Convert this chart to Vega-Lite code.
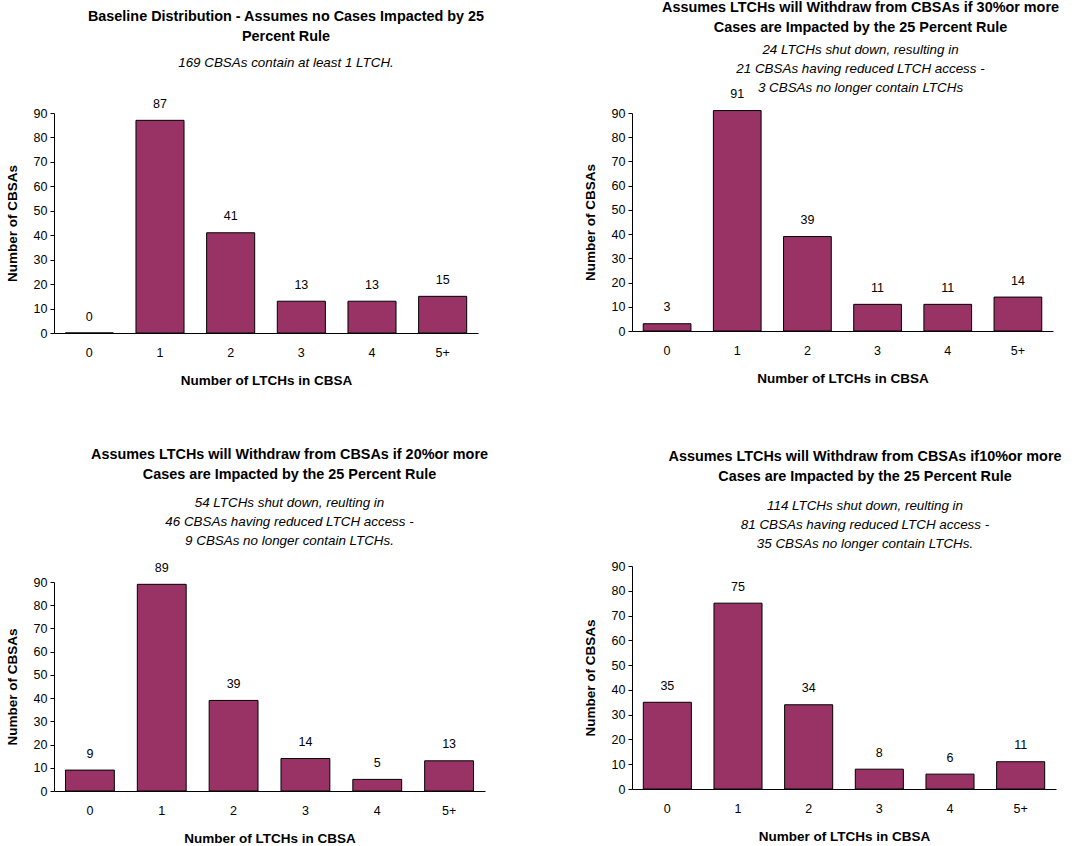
{
  "$schema": "https://vega.github.io/schema/vega-lite/v6.json",
  "background": "white",
  "padding": {"left": 5, "top": 0, "right": 0, "bottom": 0},
  "data": {
    "values": [
      {"scenario": "base", "ltchs": "0", "cbsas": 0},
      {"scenario": "base", "ltchs": "1", "cbsas": 87},
      {"scenario": "base", "ltchs": "2", "cbsas": 41},
      {"scenario": "base", "ltchs": "3", "cbsas": 13},
      {"scenario": "base", "ltchs": "4", "cbsas": 13},
      {"scenario": "base", "ltchs": "5+", "cbsas": 15},
      {"scenario": "30", "ltchs": "0", "cbsas": 3},
      {"scenario": "30", "ltchs": "1", "cbsas": 91},
      {"scenario": "30", "ltchs": "2", "cbsas": 39},
      {"scenario": "30", "ltchs": "3", "cbsas": 11},
      {"scenario": "30", "ltchs": "4", "cbsas": 11},
      {"scenario": "30", "ltchs": "5+", "cbsas": 14},
      {"scenario": "20", "ltchs": "0", "cbsas": 9},
      {"scenario": "20", "ltchs": "1", "cbsas": 89},
      {"scenario": "20", "ltchs": "2", "cbsas": 39},
      {"scenario": "20", "ltchs": "3", "cbsas": 14},
      {"scenario": "20", "ltchs": "4", "cbsas": 5},
      {"scenario": "20", "ltchs": "5+", "cbsas": 13},
      {"scenario": "10", "ltchs": "0", "cbsas": 35},
      {"scenario": "10", "ltchs": "1", "cbsas": 75},
      {"scenario": "10", "ltchs": "2", "cbsas": 34},
      {"scenario": "10", "ltchs": "3", "cbsas": 8},
      {"scenario": "10", "ltchs": "4", "cbsas": 6},
      {"scenario": "10", "ltchs": "5+", "cbsas": 11}
    ]
  },
  "config": {
    "font": "Liberation Sans",
    "view": {"stroke": null},
    "axis": {
      "domainColor": "#000",
      "tickColor": "#000",
      "labelColor": "#000",
      "titleColor": "#000",
      "labelFont": "Liberation Sans",
      "titleFont": "Liberation Sans",
      "labelFontSize": 12.5,
      "titleFontSize": 13.5,
      "titleFontWeight": "bold",
      "grid": false
    },
    "axisX": {"ticks": false, "labelAngle": 0, "labelPadding": 13, "titlePadding": 15},
    "axisY": {"tickSize": 4, "labelPadding": 3, "titlePadding": 14},
    "title": {
      "font": "Liberation Sans",
      "fontSize": 14.4,
      "fontWeight": "bold",
      "color": "#000",
      "subtitleFont": "Liberation Sans",
      "subtitleFontSize": 13.4,
      "subtitleFontStyle": "italic",
      "subtitleColor": "#000",
      "lineHeight": 20,
      "subtitleLineHeight": 19,
      "anchor": "middle",
      "frame": "group"
    },
    "bar": {"color": "#993366", "stroke": "#000", "strokeWidth": 1},
    "text": {"fontSize": 12.5, "color": "#000", "baseline": "alphabetic", "dy": -12.5}
  },
  "spacing": 94,
  "hconcat": [
    {
      "spacing": 60,
      "vconcat": [
        {
          "title": {
            "text": ["Baseline Distribution - Assumes no Cases Impacted by 25", "Percent Rule"],
            "subtitle": "169 CBSAs contain at least 1 LTCH.",
            "subtitlePadding": 12,
            "offset": 27,
            "dx": 20
          },
          "width": 424,
          "height": 220,
          "transform": [{"filter": "datum.scenario === 'base'"}],
          "encoding": {
            "x": {"field": "ltchs", "type": "nominal", "sort": ["0", "1", "2", "3", "4", "5+"],
                  "scale": {"paddingInner": 0.32, "paddingOuter": 0.16},
                  "axis": {"title": "Number of LTCHs in CBSA"}},
            "y": {"field": "cbsas", "type": "quantitative",
                  "scale": {"domain": [0, 90], "nice": false},
                  "axis": {"title": "Number of CBSAs", "values": [0, 10, 20, 30, 40, 50, 60, 70, 80, 90]}}
          },
          "layer": [
            {"mark": {"type": "bar"}},
            {"mark": {"type": "text"}, "encoding": {"text": {"field": "cbsas", "type": "quantitative"}}}
          ]
        },
        {
          "title": {
            "text": ["Assumes LTCHs will Withdraw from CBSAs if 20%or more", "Cases are Impacted by the 25 Percent Rule"],
            "subtitle": ["54 LTCHs shut down, reulting in", "46 CBSAs having reduced LTCH access -", "9 CBSAs no longer contain LTCHs."],
            "subtitlePadding": 14,
            "offset": 13,
            "dx": 20
          },
          "width": 431,
          "height": 209,
          "transform": [{"filter": "datum.scenario === '20'"}],
          "encoding": {
            "x": {"field": "ltchs", "type": "nominal", "sort": ["0", "1", "2", "3", "4", "5+"],
                  "scale": {"paddingInner": 0.32, "paddingOuter": 0.16},
                  "axis": {"title": "Number of LTCHs in CBSA"}},
            "y": {"field": "cbsas", "type": "quantitative",
                  "scale": {"domain": [0, 90], "nice": false},
                  "axis": {"title": "Number of CBSAs", "values": [0, 10, 20, 30, 40, 50, 60, 70, 80, 90]}}
          },
          "layer": [
            {"mark": {"type": "bar"}},
            {"mark": {"type": "text"}, "encoding": {"text": {"field": "cbsas", "type": "quantitative"}}}
          ]
        }
      ]
    },
    {
      "spacing": 64,
      "vconcat": [
        {
          "title": {
            "text": ["Assumes LTCHs will Withdraw from CBSAs if 30%or more", "Cases are Impacted by the 25 Percent Rule"],
            "subtitle": ["24 LTCHs shut down, resulting in", "21 CBSAs having reduced LTCH access -", "3 CBSAs no longer contain LTCHs"],
            "subtitlePadding": 7,
            "offset": -7,
            "dx": 18
          },
          "width": 421,
          "height": 218,
          "transform": [{"filter": "datum.scenario === '30'"}],
          "encoding": {
            "x": {"field": "ltchs", "type": "nominal", "sort": ["0", "1", "2", "3", "4", "5+"],
                  "scale": {"paddingInner": 0.32, "paddingOuter": 0.16},
                  "axis": {"title": "Number of LTCHs in CBSA"}},
            "y": {"field": "cbsas", "type": "quantitative",
                  "scale": {"domain": [0, 90], "nice": false},
                  "axis": {"title": "Number of CBSAs", "values": [0, 10, 20, 30, 40, 50, 60, 70, 80, 90]}}
          },
          "layer": [
            {"mark": {"type": "bar"}},
            {"mark": {"type": "text"}, "encoding": {"text": {"field": "cbsas", "type": "quantitative"}}}
          ]
        },
        {
          "title": {
            "text": ["Assumes LTCHs will Withdraw from CBSAs if10%or more", "Cases are Impacted by the 25 Percent Rule"],
            "subtitle": ["114 LTCHs shut down, reulting in", "81 CBSAs having reduced LTCH access -", "35 CBSAs no longer contain LTCHs."],
            "subtitlePadding": 14,
            "offset": 9,
            "dx": 21
          },
          "width": 424,
          "height": 223,
          "transform": [{"filter": "datum.scenario === '10'"}],
          "encoding": {
            "x": {"field": "ltchs", "type": "nominal", "sort": ["0", "1", "2", "3", "4", "5+"],
                  "scale": {"paddingInner": 0.32, "paddingOuter": 0.16},
                  "axis": {"title": "Number of LTCHs in CBSA"}},
            "y": {"field": "cbsas", "type": "quantitative",
                  "scale": {"domain": [0, 90], "nice": false},
                  "axis": {"title": "Number of CBSAs", "values": [0, 10, 20, 30, 40, 50, 60, 70, 80, 90]}}
          },
          "layer": [
            {"mark": {"type": "bar"}},
            {"mark": {"type": "text"}, "encoding": {"text": {"field": "cbsas", "type": "quantitative"}}}
          ]
        }
      ]
    }
  ]
}
